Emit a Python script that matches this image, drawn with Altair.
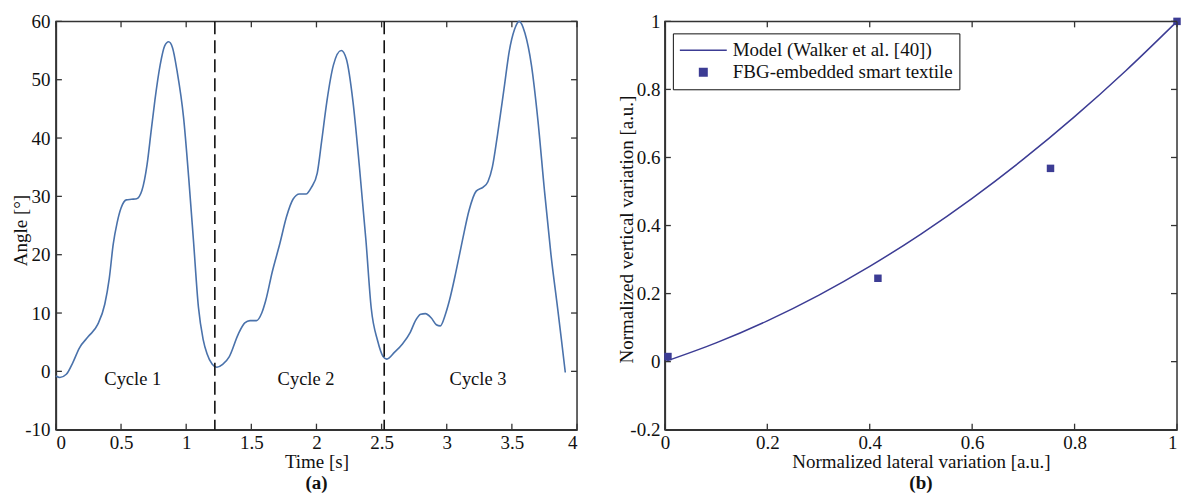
import altair as alt
import pandas as pd

# ---------------- data ----------------
time_s = [0.00, 0.03, 0.08, 0.13, 0.18, 0.25, 0.32, 0.375, 0.41, 0.44, 0.47, 0.50,
          0.54, 0.58, 0.62, 0.66, 0.70, 0.73, 0.76, 0.80, 0.835, 0.865, 0.895, 0.93,
          0.98, 1.02, 1.056, 1.094, 1.13, 1.16, 1.20, 1.235, 1.28, 1.33, 1.40, 1.45,
          1.49, 1.54, 1.58, 1.61, 1.66, 1.72, 1.77, 1.82, 1.87, 1.92, 1.96, 2.006,
          2.04, 2.08, 2.13, 2.19, 2.23, 2.28, 2.33, 2.38, 2.42, 2.47, 2.51, 2.54,
          2.60, 2.66, 2.72, 2.76, 2.80, 2.836, 2.88, 2.92, 2.95, 2.99, 3.02, 3.07,
          3.12, 3.17, 3.226, 3.28, 3.316, 3.35, 3.39, 3.44, 3.48, 3.52, 3.556, 3.60,
          3.65, 3.70, 3.75, 3.80, 3.85, 3.88, 3.91]
angle_deg = [-0.8, -1.05, -0.5, 1.5, 4.0, 6.0, 8.0, 11.5, 16.0, 21.8, 25.5, 28.0,
             29.4, 29.5, 29.6, 31.0, 35.5, 41.0, 46.5, 52.5, 55.8, 56.5, 55.5, 51.5,
             43.5, 33.0, 22.4, 11.0, 5.5, 3.0, 1.2, 0.7, 1.2, 2.5, 6.4, 8.3,
             8.7, 8.7, 10.0, 12.1, 17.0, 22.0, 26.5, 29.5, 30.4, 30.4, 31.5, 34.0,
             39.5, 46.3, 52.5, 55.0, 53.5, 46.3, 35.0, 22.4, 10.9, 5.2, 2.6, 2.1,
             3.3, 4.7, 6.7, 8.7, 9.8, 9.9, 9.2, 8.0, 7.8, 9.8, 12.1, 17.0,
             22.4, 27.5, 30.9, 31.6, 32.5, 35.0, 40.6, 48.5, 54.9, 58.6, 60.0, 58.0,
             52.5, 43.0, 31.0, 20.0, 11.0, 5.5, -0.2]
cycle_bounds = [1.22, 2.52]
cycle_names = ["Cycle 1", "Cycle 2", "Cycle 3"]
cycle_t = [0.59, 1.92, 3.24]
cycle_angle = [-1.3, -1.3, -1.3]
x_ticks_a = [0, 0.5, 1, 1.5, 2, 2.5, 3, 3.5, 4]
y_ticks_a = [-10, 0, 10, 20, 30, 40, 50, 60]

model_x = [0.0, 0.1, 0.2, 0.3, 0.4, 0.5, 0.6, 0.7, 0.8, 0.9, 1.0]
model_y = [0.0, 0.055, 0.12, 0.195, 0.28, 0.375, 0.48, 0.595, 0.72, 0.855, 1.0]
fbg_x = [0.006, 0.416, 0.753, 1.0]
fbg_y = [0.015, 0.245, 0.568, 1.0]
x_ticks_b = [0, 0.2, 0.4, 0.6, 0.8, 1]
y_ticks_b = [-0.2, 0, 0.2, 0.4, 0.6, 0.8, 1]
series_names = ["Model (Walker et al. [40])", "FBG-embedded smart textile"]

# ---------------- style ----------------
FONT = "Liberation Serif"
FS = 19
FRAME = "#333333"
TXT = "#111111"
CURVE_A = "#4a72ab"
NAVY = "#3c3c94"
W1, W2, H = 522, 513, 409
TICK = 6

label_expr = "replace('' + datum.value, '\u2212', '-')"


def axis(values, lab_pad, **kw):
    return alt.Axis(values=values, labelExpr=label_expr, ticks=False, labelPadding=lab_pad,
                    grid=False, labelFont=FONT, labelFontSize=FS, labelColor=TXT,
                    titleFont=FONT, titleFontSize=FS, titleFontWeight="normal", titleColor=TXT,
                    domainColor=FRAME, domainWidth=1.5, labelOverlap=False, **kw)


# ---------------- panel (a) ----------------
xs_a = alt.Scale(domain=[0, 4], nice=False, zero=False)
ys_a = alt.Scale(domain=[-10, 60], nice=False, zero=False)
ax_xa = axis(x_ticks_a, 4, titlePadding=0)
ax_ya = axis(y_ticks_a, 6, titleX=-25, titleY=209)
TA, AA = "Time [s]", "Angle [°]"

df_a = pd.DataFrame({"x": time_s, "y": angle_deg})
curve = alt.Chart(df_a).mark_line(color=CURVE_A, strokeWidth=1.6, interpolate="monotone").encode(
    x=alt.X("x:Q", scale=xs_a, title=TA, axis=ax_xa),
    y=alt.Y("y:Q", scale=ys_a, title=AA, axis=ax_ya),
)

bounds = alt.Chart(pd.DataFrame({"x": cycle_bounds})).mark_rule(
    color=TXT, strokeWidth=1.6, strokeDash=[13, 6]
).encode(x=alt.X("x:Q", scale=xs_a, axis=ax_xa, title=TA), y=alt.value(0), y2=alt.value(H))

cyc = alt.Chart(pd.DataFrame({"x": cycle_t, "y": cycle_angle, "name": cycle_names})).mark_text(
    font=FONT, fontSize=18.5, color=TXT, baseline="middle", align="center"
).encode(x=alt.X("x:Q", scale=xs_a, axis=ax_xa, title=TA),
         y=alt.Y("y:Q", scale=ys_a, axis=ax_ya, title=AA), text="name:N")

tx_a = alt.Chart(pd.DataFrame({"x": x_ticks_a}))
ty_a = alt.Chart(pd.DataFrame({"y": y_ticks_a}))
tick_b = tx_a.mark_rule(color=FRAME, strokeWidth=1.3).encode(
    x=alt.X("x:Q", scale=xs_a, axis=ax_xa, title=TA), y=alt.value(H), y2=alt.value(H - TICK))
tick_t = tx_a.mark_rule(color=FRAME, strokeWidth=1.3).encode(
    x=alt.X("x:Q", scale=xs_a, axis=ax_xa, title=TA), y=alt.value(0), y2=alt.value(TICK))
tick_l = ty_a.mark_rule(color=FRAME, strokeWidth=1.3).encode(
    y=alt.Y("y:Q", scale=ys_a, axis=ax_ya, title=AA), x=alt.value(0), x2=alt.value(TICK))
tick_r = ty_a.mark_rule(color=FRAME, strokeWidth=1.3).encode(
    y=alt.Y("y:Q", scale=ys_a, axis=ax_ya, title=AA), x=alt.value(W1), x2=alt.value(W1 - TICK))

panel_a = alt.layer(curve, bounds, cyc, tick_b, tick_t, tick_l, tick_r).properties(
    width=W1, height=H,
    title=alt.TitleParams("(a)", orient="bottom", anchor="middle", frame="group", fontSize=FS,
                          fontWeight="bold", font=FONT, color=TXT, offset=2),
)

# ---------------- panel (b) ----------------
xs_b = alt.Scale(domain=[0, 1], nice=False, zero=False)
ys_b = alt.Scale(domain=[-0.2, 1], nice=False, zero=False)
XT = "Normalized lateral variation [a.u.]"
YT = "Normalized vertical variation [a.u.]"
ax_xb = axis(x_ticks_b, 4, titlePadding=0,
             labelAlign=alt.condition("datum.value == 1", alt.value("right"), alt.value("center")))
ax_yb = axis(y_ticks_b, 5, titleX=-28, titleY=208)

df_m = pd.DataFrame({"x": model_x, "y": model_y})
model = alt.Chart(df_m).mark_line(color=NAVY, strokeWidth=1.5, interpolate="monotone").encode(
    x=alt.X("x:Q", scale=xs_b, title=XT, axis=ax_xb),
    y=alt.Y("y:Q", scale=ys_b, title=YT, axis=ax_yb),
)

leg = alt.Legend(title=None, orient="none", legendX=8, legendY=12,
                 strokeColor=TXT, fillColor="white", padding=6,
                 labelFont=FONT, labelFontSize=FS, labelColor=TXT,
                 labelOffset=5, labelLimit=400, rowPadding=0, clipHeight=22,
                 symbolStrokeColor=NAVY, symbolStrokeWidth=1.5)

df_f = pd.DataFrame({"x": fbg_x, "y": fbg_y, "s": [series_names[1]] * len(fbg_x)})
pts = alt.Chart(df_f).mark_point(filled=True, opacity=1).encode(
    x=alt.X("x:Q", scale=xs_b, axis=ax_xb, title=XT),
    y=alt.Y("y:Q", scale=ys_b, axis=ax_yb, title=YT),
    shape=alt.Shape("s:N", scale=alt.Scale(domain=series_names, range=["stroke", "square"]),
                    legend=leg, title=""),
    color=alt.Color("s:N", scale=alt.Scale(domain=series_names, range=[NAVY, NAVY]),
                    legend=leg, title=""),
    size=alt.Size("s:N", scale=alt.Scale(domain=series_names, range=[2209, 56]),
                  legend=leg, title=""),
)

tx_b = alt.Chart(pd.DataFrame({"x": x_ticks_b}))
ty_b = alt.Chart(pd.DataFrame({"y": y_ticks_b}))
tick_bb = tx_b.mark_rule(color=FRAME, strokeWidth=1.3).encode(
    x=alt.X("x:Q", scale=xs_b, axis=ax_xb, title=XT), y=alt.value(H), y2=alt.value(H - TICK))
tick_bt = tx_b.mark_rule(color=FRAME, strokeWidth=1.3).encode(
    x=alt.X("x:Q", scale=xs_b, axis=ax_xb, title=XT), y=alt.value(0), y2=alt.value(TICK))
tick_bl = ty_b.mark_rule(color=FRAME, strokeWidth=1.3).encode(
    y=alt.Y("y:Q", scale=ys_b, axis=ax_yb, title=YT), x=alt.value(0), x2=alt.value(TICK))
tick_br = ty_b.mark_rule(color=FRAME, strokeWidth=1.3).encode(
    y=alt.Y("y:Q", scale=ys_b, axis=ax_yb, title=YT), x=alt.value(W2), x2=alt.value(W2 - TICK))

panel_b = alt.layer(model, pts, tick_bb, tick_bt, tick_bl, tick_br).properties(
    width=W2, height=H,
    title=alt.TitleParams("(b)", orient="bottom", anchor="middle", frame="group", fontSize=FS,
                          fontWeight="bold", font=FONT, color=TXT, offset=2),
)

chart = alt.hconcat(panel_a, panel_b, spacing=38).resolve_legend(
    shape="independent", color="independent", size="independent"
).properties(
    padding={"left": 11, "top": 11, "right": 0, "bottom": 0},
    background="white",
).configure_view(
    stroke=FRAME, strokeWidth=1.5
).configure_axis(
    labelFont=FONT, labelFontSize=FS, titleFont=FONT, titleFontSize=FS,
).configure_legend(
    labelFont=FONT, labelFontSize=FS,
)

chart.save("out.html", embed_options={"renderer": "svg", "actions": False})
